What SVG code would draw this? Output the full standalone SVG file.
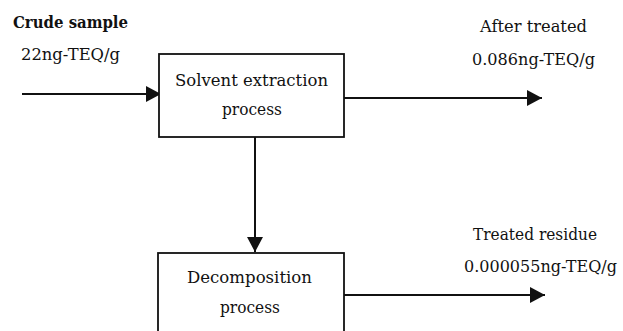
<svg xmlns="http://www.w3.org/2000/svg" width="623" height="331" viewBox="0 0 623 331">
<style>
  text { font-family: "DejaVu Serif", "Liberation Serif", serif; font-size: 17.5px; fill: #111; }
  .box { fill: #fff; stroke: #111; stroke-width: 1.8; }
  .conn { stroke: #111; stroke-width: 2; fill: none; }
</style>
<defs>
  <marker id="ah" markerUnits="userSpaceOnUse" markerWidth="16" markerHeight="16" refX="15" refY="8" orient="auto">
    <path d="M0,0 L15,8 L0,16 z" fill="#111"/>
  </marker>
</defs>
<rect width="623" height="331" fill="#fff"/>
<g id="connectors">
  <line class="conn" x1="22" y1="94" x2="161" y2="94" marker-end="url(#ah)"/>
  <line class="conn" x1="344" y1="98" x2="542" y2="98" marker-end="url(#ah)"/>
  <line class="conn" x1="255" y1="137" x2="255" y2="252" marker-end="url(#ah)"/>
  <line class="conn" x1="344" y1="295" x2="545" y2="295" marker-end="url(#ah)"/>
</g>
<g id="input-label">
  <text x="13" y="28" textLength="115" lengthAdjust="spacingAndGlyphs" font-weight="bold">Crude sample</text>
  <text x="21" y="60" textLength="99" lengthAdjust="spacingAndGlyphs">22ng-TEQ/g</text>
</g>
<g id="solvent-extraction">
  <rect class="box" x="159" y="54" width="185" height="83"/>
  <text x="175" y="86" textLength="153" lengthAdjust="spacingAndGlyphs">Solvent extraction</text>
  <text x="222" y="115" textLength="60" lengthAdjust="spacingAndGlyphs">process</text>
</g>
<g id="after-treated-label">
  <text x="480" y="32" textLength="107" lengthAdjust="spacingAndGlyphs">After treated</text>
  <text x="472" y="65" textLength="123" lengthAdjust="spacingAndGlyphs">0.086ng-TEQ/g</text>
</g>
<g id="decomposition">
  <rect class="box" x="158" y="253" width="186" height="90"/>
  <text x="187" y="283" textLength="125" lengthAdjust="spacingAndGlyphs">Decomposition</text>
  <text x="220" y="313" textLength="60" lengthAdjust="spacingAndGlyphs">process</text>
</g>
<g id="residue-label">
  <text x="473" y="240" textLength="124" lengthAdjust="spacingAndGlyphs">Treated residue</text>
  <text x="464" y="272" font-size="16" textLength="153" lengthAdjust="spacingAndGlyphs">0.000055ng-TEQ/g</text>
</g>
</svg>
